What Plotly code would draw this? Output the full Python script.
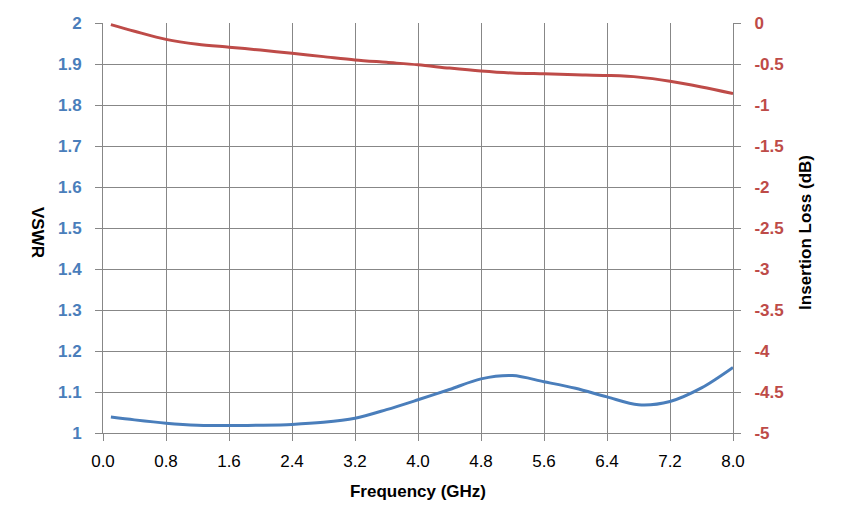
import plotly.graph_objects as go

# frequency points (GHz)
freq = [0.1, 0.4, 0.8, 1.2, 1.6, 2.0, 2.4, 2.8, 3.2, 3.6, 4.0,
        4.4, 4.8, 5.2, 5.6, 6.0, 6.4, 6.8, 7.2, 7.6, 8.0]
vswr = [1.039, 1.032, 1.024, 1.019, 1.018, 1.019, 1.021, 1.026, 1.036, 1.057, 1.081,
        1.106, 1.132, 1.140, 1.125, 1.109, 1.088, 1.069, 1.077, 1.110, 1.160]
ins_loss = [-0.02, -0.10, -0.20, -0.26, -0.295, -0.33, -0.37, -0.41, -0.45, -0.48, -0.51,
            -0.55, -0.585, -0.61, -0.62, -0.63, -0.64, -0.66, -0.71, -0.78, -0.86]

loss_ticks = [0, -0.5, -1, -1.5, -2, -2.5, -3, -3.5, -4, -4.5, -5]
loss_labels = ["0", "-0.5", "-1", "-1.5", "-2", "-2.5", "-3", "-3.5", "-4", "-4.5", "-5"]

blue = "#4A7EBB"
red = "#BE4B48"
grid = "#878787"
font = "Liberation Sans"

fig = go.Figure()
fig.add_trace(go.Scatter(x=freq, y=vswr, mode="lines", name="VSWR",
                         line=dict(color=blue, width=3, shape="spline", smoothing=0.9)))
fig.add_trace(go.Scatter(x=freq, y=ins_loss, mode="lines", name="Insertion Loss",
                         line=dict(color=red, width=3, shape="spline", smoothing=0.9),
                         yaxis="y2"))

# page body has an 8px margin, so the figure is 8px smaller and the margins shifted
fig.update_layout(
    template="none",
    width=836, height=521,
    margin=dict(l=95, r=111, t=15, b=96, autoexpand=False),
    paper_bgcolor="white", plot_bgcolor="white",
    showlegend=False,
    font=dict(family=font, size=17, color="black"),
    xaxis=dict(range=[0, 8], dtick=0.8, tick0=0, tickformat=".1f", automargin=False,
               showgrid=True, gridcolor=grid, gridwidth=1,
               showline=True, linecolor=grid, linewidth=1,
               ticks="outside", ticklen=7, tickcolor=grid, tickwidth=1,
               ticklabelstandoff=6, zeroline=False,
               tickfont=dict(family=font, size=17, color="black"),
               title=dict(text="<b>Frequency (GHz)</b>", standoff=14,
                          font=dict(family=font, size=17, color="black"))),
    yaxis=dict(range=[1, 2], dtick=0.1, tick0=1, automargin=False,
               showgrid=True, gridcolor=grid, gridwidth=1,
               showline=True, linecolor=grid, linewidth=1, mirror=False,
               ticks="outside", ticklen=7, tickcolor=grid, tickwidth=1,
               ticklabelstandoff=10, zeroline=False,
               tickfont=dict(family=font, size=17, color=blue, weight="bold")),
    yaxis2=dict(range=[-5, 0], overlaying="y", side="right", automargin=False,
                tickvals=loss_ticks, ticktext=loss_labels,
                showgrid=False, showline=True, linecolor=grid, linewidth=1,
                ticks="outside", ticklen=7, tickcolor=grid, tickwidth=1,
                ticklabelstandoff=10, zeroline=False,
                tickfont=dict(family=font, size=17, color=red, weight="bold")),
    annotations=[
        dict(text="<b>VSWR</b>", xref="paper", yref="paper", x=-0.103, y=0.49,
             xanchor="center", yanchor="middle", textangle=90, showarrow=False,
             font=dict(family=font, size=17, color="black")),
        dict(text="<b>Insertion Loss (dB)</b>", xref="paper", yref="paper", x=1.114, y=0.49,
             xanchor="center", yanchor="middle", textangle=-90, showarrow=False,
             font=dict(family=font, size=17, color="black")),
    ],
)

fig.write_html("out.html")
